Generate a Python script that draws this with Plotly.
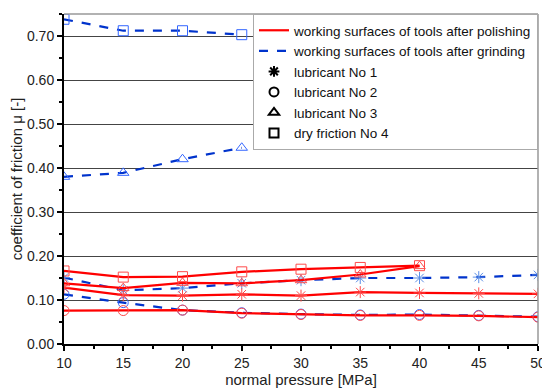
import plotly.graph_objects as go

# pressure values
p_full = [10, 15, 20, 25, 30, 35, 40, 45, 50]
p_40 = [10, 15, 20, 25, 30, 35, 40]
p_25 = [10, 15, 20, 25]

# polishing (red, solid)
pol_lub1 = [0.128, 0.111, 0.110, 0.113, 0.110, 0.118, 0.116, 0.115, 0.114]
pol_lub2 = [0.076, 0.076, 0.077, 0.070, 0.067, 0.065, 0.065, 0.064, 0.061]
pol_lub3 = [0.138, 0.127, 0.139, 0.138, 0.145, 0.158, 0.177]
pol_dry4 = [0.166, 0.152, 0.153, 0.164, 0.170, 0.174, 0.178]

# grinding (blue, dashed)
gr_lub1 = [0.151, 0.122, 0.127, 0.138, 0.145, 0.150, 0.150, 0.152, 0.157]
gr_lub2 = [0.113, 0.094, 0.077, 0.071, 0.068, 0.066, 0.067, 0.065, 0.062]
gr_lub3 = [0.380, 0.389, 0.420, 0.446]
gr_dry4 = [0.738, 0.712, 0.712, 0.703]

legend_labels = ["working surfaces of tools after polishing",
                 "working surfaces of tools after grinding",
                 "lubricant No 1", "lubricant No 2", "lubricant No 3", "dry friction No 4"]

RED = "#ff0000"
RED_M = "#ff4a4a"
BLUE = "#0033cc"
BLUE_M = "#3366ff"

fig = go.Figure()

def add(x, y, color, mcolor, dash, symbol):
    fig.add_trace(go.Scatter(
        x=x, y=y, mode="lines+markers",
        line=dict(color=color, width=2.2, dash=dash),
        marker=dict(symbol=symbol, size=10, color=mcolor,
                    line=dict(color=mcolor, width=1)),
        showlegend=False, hoverinfo="x+y"))

# grinding first (drawn underneath)
add(p_full, gr_lub1, BLUE, "#5b8ee6", "dash", "asterisk-open")
add(p_full, gr_lub2, BLUE, BLUE_M, "dash", "circle-open")
add(p_25, gr_lub3, BLUE, BLUE_M, "dash", "triangle-up-open")
add(p_25, gr_dry4, BLUE, BLUE_M, "dash", "square-open")
# polishing
add(p_full, pol_lub1, RED, RED_M, "solid", "asterisk-open")
add(p_full, pol_lub2, RED, RED_M, "solid", "circle-open")
add(p_40, pol_lub3, RED, RED_M, "solid", "triangle-up-open")
add(p_40, pol_dry4, RED, RED_M, "solid", "square-open")

# legend entries
fig.add_trace(go.Scatter(x=[None], y=[None], mode="lines",
                         line=dict(color=RED, width=2.2), name=legend_labels[0]))
fig.add_trace(go.Scatter(x=[None], y=[None], mode="lines",
                         line=dict(color=BLUE, width=2.2, dash="dash"), name=legend_labels[1]))
for sym, lab in zip(["asterisk-open", "circle-open", "triangle-up-open", "square-open"],
                    legend_labels[2:]):
    fig.add_trace(go.Scatter(x=[None], y=[None], mode="markers",
                             marker=dict(symbol=sym, size=9, color="black",
                                         line=dict(color="black", width=2)),
                             name=lab))

font = "Liberation Sans, Arial, sans-serif"
fig.update_layout(
    width=542, height=383,
    margin=dict(l=56, r=12, t=6, b=47),
    paper_bgcolor="white", plot_bgcolor="white",
    font=dict(family=font, size=14, color="#222"),
    legend=dict(x=1, y=1, xanchor="right", yanchor="top",
                bgcolor="white", bordercolor="#aaaaaa", borderwidth=1,
                font=dict(size=13.5, family=font, color="#111"),
                tracegroupgap=0, itemwidth=30),
    xaxis=dict(range=[10, 50], tickvals=[10, 15, 20, 25, 30, 35, 40, 45, 50],
               title=dict(text="normal pressure [MPa]", standoff=0,
                          font=dict(size=15)),
               automargin=False,
               showline=True, linecolor="black", linewidth=2, mirror=False,
               ticks="outside", ticklen=5, tickwidth=1.5, tickcolor="black",
               minor=dict(ticks="outside", ticklen=3, tickcolor="black", dtick=2.5),
               showgrid=False, zeroline=False, tickfont=dict(size=14)),
    yaxis=dict(range=[0, 0.75], tickvals=[0, 0.1, 0.2, 0.3, 0.4, 0.5, 0.6, 0.7],
               tickformat=".2f",
               title=dict(text="coefficient of friction μ [-]", standoff=4,
                          font=dict(size=15)),
               automargin=False,
               showline=True, linecolor="black", linewidth=2,
               ticks="outside", ticklen=5, tickwidth=1.5, tickcolor="black",
               minor=dict(ticks="outside", ticklen=3, tickcolor="black", dtick=0.05),
               showgrid=True, gridcolor="#444444", gridwidth=1,
               zeroline=False, tickfont=dict(size=14)),
)

# frame on top/right (thin gray)
fig.add_shape(type="line", xref="paper", yref="paper", x0=0, x1=1, y0=1, y1=1,
              line=dict(color="#999999", width=1.5))
fig.add_shape(type="line", xref="paper", yref="paper", x0=1, x1=1, y0=0, y1=1,
              line=dict(color="#999999", width=1.5))

fig.write_html("out.html")
